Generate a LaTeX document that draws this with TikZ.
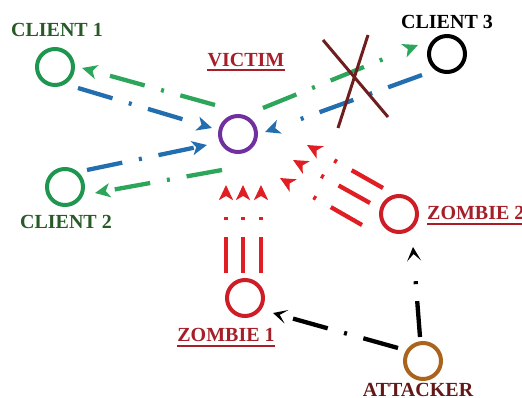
\documentclass[tikz,border=0pt]{standalone}
\usepackage{fontspec}
\setmainfont{Liberation Serif}
\usetikzlibrary{arrows.meta}
\definecolor{cgreen}{RGB}{30,150,80}
\definecolor{agreen}{RGB}{45,165,90}
\definecolor{ablue}{RGB}{35,110,175}
\definecolor{vpurple}{RGB}{112,48,160}
\definecolor{zred}{RGB}{205,30,40}
\definecolor{arrred}{RGB}{225,30,35}
\definecolor{abrown}{RGB}{170,100,30}
\definecolor{crosscol}{RGB}{110,30,30}
\definecolor{lblgreen}{RGB}{40,90,40}
\definecolor{lblred}{RGB}{165,30,40}
\definecolor{lblmaroon}{RGB}{100,25,25}
\tikzset{
  nodecirc/.style={circle, minimum size=36pt, inner sep=0pt, line width=4pt},
  lbl/.style={inner sep=0pt, font=\fontsize{20}{20}\selectfont\bfseries},
  dda/.style={line width=4.3pt, dash pattern=on 36pt off 17pt on 3pt off 80pt},
  ddb/.style={line width=4.3pt, dash pattern=on 36pt off 17pt on 3pt off 17pt on 36pt off 80pt},
  ddc/.style={line width=4.3pt, dash pattern=on 36pt off 17pt on 3pt off 17pt on 36pt off 17pt on 3pt off 80pt},
  tipc/.style={-{Stealth[length=15pt,width=14pt,inset=4pt]}},
  tipk/.style={-{Stealth[length=14pt,width=14pt,inset=7pt]}},
  garr/.style={tipc, draw=agreen},
  barr/.style={tipc, draw=ablue},
  rarr/.style={dda, tipc, draw=arrred},
  karr/.style={tipk, draw=black},
  uline/.style={line width=1.8pt},
}
\begin{document}
\begin{tikzpicture}[x=1pt,y=-1pt]
\useasboundingbox (0,0) rectangle (522,398);
% nodes
\node[nodecirc, draw=cgreen] (c1) at (55,67) {};
\node[nodecirc, draw=cgreen] (c2) at (65,187) {};
\node[nodecirc, draw=black] (c3) at (447,54) {};
\node[nodecirc, draw=vpurple] (v) at (238,134) {};
\node[nodecirc, draw=zred] (z1) at (245,298) {};
\node[nodecirc, draw=zred] (z2) at (399,214) {};
\node[nodecirc, draw=abrown] (a) at (423,361) {};
% labels
\node[lbl, text=lblgreen] (l1) at (57,30) {CLIENT 1};
\node[lbl, text=lblgreen] (l2) at (66,222) {CLIENT 2};
\node[lbl, text=black] (l3) at (447,22) {CLIENT 3};
\node[lbl, text=lblred] (lv) at (246,60) {VICTIM};
\node[lbl, text=lblred] (lz1) at (226,335) {ZOMBIE 1};
\node[lbl, text=lblred, anchor=west] (lz2) at (427,213) {ZOMBIE 2};
\node[lbl, text=lblmaroon] (la) at (418,390) {ATTACKER};
\draw[uline, draw=lblred] ([yshift=-3pt]lv.south west) -- ([yshift=-3pt]lv.south east);
\draw[uline, draw=lblred] ([yshift=-4pt]lz1.south west) -- ([yshift=-4pt]lz1.south east);
\draw[uline, draw=lblred] ([yshift=-4pt]lz2.south west) -- ([yshift=-4pt]lz2.south east);
% client traffic
\draw[ddb, garr] ([shift={(-23,-29)}]v.center) -- ([shift={(27,1)}]c1.center);
\draw[ddb, barr] ([shift={(23,21)}]c1.center) -- ([shift={(-26,-6)}]v.center);
\draw[ddb, barr] ([shift={(22,-17)}]c2.center) -- ([shift={(-31,11)}]v.center);
\draw[ddb, garr] ([shift={(-16,36)}]v.center) -- ([shift={(30,6)}]c2.center);
\draw[ddc, garr] ([shift={(25,-26)}]v.center) -- ([shift={(-29,-9)}]c3.center);
\draw[ddc, barr] ([shift={(-25,21)}]c3.center) -- ([shift={(27,-2)}]v.center);
% cross
\draw[crosscol, line width=3pt] (323,40) -- (388,117);
\draw[crosscol, line width=3pt] (368,35) -- (338,128);
% zombie floods
\draw[rarr] ([shift={(-19,-25)}]z1.center) -- ([shift={(-12,51)}]v.center);
\draw[rarr] ([shift={(-2,-25)}]z1.center) -- ([shift={(5,51)}]v.center);
\draw[rarr] ([shift={(16,-25)}]z1.center) -- ([shift={(23,51)}]v.center);
\draw[rarr] ([shift={(-16,-26)}]z2.center) -- ([shift={(69,11)}]v.center);
\draw[rarr] ([shift={(-29,-11)}]z2.center) -- ([shift={(55,26)}]v.center);
\draw[rarr] ([shift={(-37,11)}]z2.center) -- ([shift={(42,44)}]v.center);
% attacker commands
\draw[ddb, karr] ([shift={(-25,-13)}]a.center) -- ([shift={(28,15)}]z1.center);
\draw[dda, karr] ([shift={(-3,-24)}]a.center) -- ([shift={(14,33)}]z2.center);
\end{tikzpicture}
\end{document}
